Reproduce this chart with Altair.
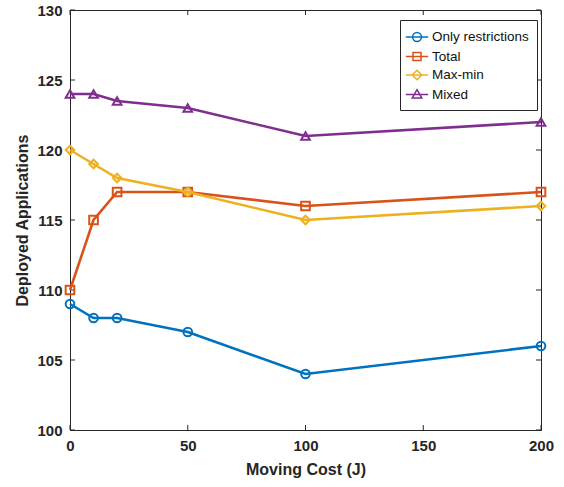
import altair as alt
import pandas as pd

x_vals = [0, 10, 20, 50, 100, 200]
only_restrictions = [109, 108, 108, 107, 104, 106]
total = [110, 115, 117, 117, 116, 117]
max_min = [120, 119, 118, 117, 115, 116]
mixed = [124, 124, 123.5, 123, 121, 122]
series_names = ["Only restrictions", "Total", "Max-min", "Mixed"]
series_colors = ["#0072BD", "#D95319", "#EDB120", "#7E2F8E"]
series_shapes = ["circle", "square", "diamond", "triangle-up"]
legend_shapes = [
    "M-1.4,0H1.4M-0.55,0A0.55,0.55 0 1,0 0.55,0A0.55,0.55 0 1,0 -0.55,0",
    "M-1.4,0H1.4M-0.5,-0.5H0.5V0.5H-0.5Z",
    "M-1.4,0H1.4M0,-0.6L0.6,0L0,0.6L-0.6,0Z",
    "M-1.4,0H1.4M0,-0.6L0.6,0.45L-0.6,0.45Z",
]
x_ticks = [0, 50, 100, 150, 200]
y_ticks = [100, 105, 110, 115, 120, 125, 130]

rows = []
for k, (name, vals) in enumerate(zip(series_names, [only_restrictions, total, max_min, mixed])):
    for x, y in zip(x_vals, vals):
        rows.append({"series": name, "cost": x, "apps": y, "k": k})
df = pd.DataFrame(rows)
xt = pd.DataFrame({"t": x_ticks})
yt = pd.DataFrame({"t": y_ticks})

W, H = 471, 420
FONT = "Liberation Sans"
AX = "#262626"

xscale = alt.Scale(domain=[0, 200], nice=False)
yscale = alt.Scale(domain=[100, 130], nice=False)
cscale = alt.Scale(domain=series_names, range=series_colors)

legend = alt.Legend(
    title=None, orient="none", legendX=330, legendY=10, padding=8,
    strokeColor=AX, fillColor="white",
    labelFont=FONT, labelFontSize=13.5, labelColor="#111111",
    symbolSize=256, symbolStrokeWidth=1.5, labelOffset=6, rowPadding=2.5,
    symbolFillColor="transparent", symbolOpacity=1,
)

xenc = alt.X("cost:Q", scale=xscale, title="Moving Cost (J)",
             axis=alt.Axis(values=x_ticks, tickSize=0, labelPadding=8, labelFlush=False, grid=False,
                           titlePadding=8))
yenc = alt.Y("apps:Q", scale=yscale, title="Deployed Applications",
             axis=alt.Axis(values=y_ticks, tickSize=0, labelPadding=8, labelFlush=False, grid=False,
                           titlePadding=6))

layers = []
tk = dict(color=AX, strokeWidth=1)
layers.append(alt.Chart(xt).mark_rule(**tk).encode(x=alt.X("t:Q", scale=xscale), y=alt.value(H), y2=alt.value(H - 5)))
layers.append(alt.Chart(xt).mark_rule(**tk).encode(x=alt.X("t:Q", scale=xscale), y=alt.value(0), y2=alt.value(5)))
layers.append(alt.Chart(yt).mark_rule(**tk).encode(y=alt.Y("t:Q", scale=yscale), x=alt.value(0), x2=alt.value(5)))
layers.append(alt.Chart(yt).mark_rule(**tk).encode(y=alt.Y("t:Q", scale=yscale), x=alt.value(W), x2=alt.value(W - 5)))

for name, col, shp in zip(series_names, series_colors, series_shapes):
    sub = alt.Chart(df).transform_filter(alt.datum.series == name)
    layers.append(sub.mark_line(strokeWidth=2.6, color=col).encode(x=xenc, y=yenc))
    layers.append(sub.mark_point(filled=False, strokeWidth=2, size=75, opacity=1, shape=shp, color=col).encode(
        x="cost:Q", y="apps:Q"))

# legend-only layer (invisible marks)
layers.append(alt.Chart(df).mark_point(filled=False, strokeWidth=1.5, opacity=0).encode(
    x="cost:Q", y="apps:Q",
    color=alt.Color("series:N", scale=cscale, legend=legend),
    shape=alt.Shape("series:N", scale=alt.Scale(domain=series_names, range=legend_shapes), legend=legend),
))

chart = alt.layer(*layers).properties(
    width=W, height=H,
    autosize=alt.AutoSizeParams(type="none"),
    padding={"left": 70, "top": 10, "right": 23, "bottom": 57},
    background="white",
).configure_view(stroke=AX, strokeWidth=1).configure_axis(
    domainColor=AX, labelFont=FONT, labelFontSize=15, labelFontWeight="bold", labelColor=AX,
    titleFont=FONT, titleFontSize=16, titleFontWeight="bold", titleColor=AX,
)

chart.save("out.html", embed_options={"renderer": "svg", "actions": False})
